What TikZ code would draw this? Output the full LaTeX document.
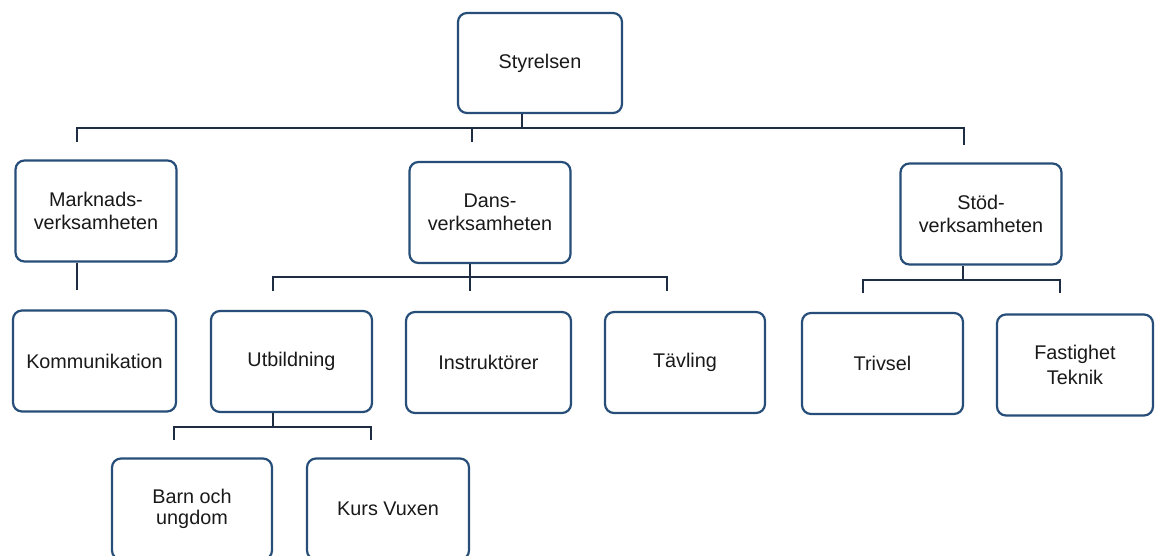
\documentclass[tikz,border=0pt]{standalone}
\usepackage{fontspec}
\setmainfont{Liberation Sans}
\definecolor{boxblue}{RGB}{38,78,120}
\definecolor{linenavy}{RGB}{30,45,65}
\begin{document}
\begin{tikzpicture}[x=1pt,y=-1pt,
  orgbox/.style={draw=boxblue, line width=2.2pt, rounded corners=9pt, fill=white,
    minimum width=161pt, minimum height=101pt, inner sep=0pt, align=center,
    font=\fontsize{19.8}{23}\selectfont, text=black!90},
  conn/.style={draw=linenavy, line width=2pt}]
\useasboundingbox (0,0) rectangle (1156,555);
% boxes
\node[orgbox, minimum width=164pt, minimum height=100pt] (sty) at (540,63) {Styrelsen};
\node[orgbox] (mark) at (96,211) {Marknads-\\verksamheten};
\node[orgbox] (dans) at (490,212.5) {Dans-\\verksamheten};
\node[orgbox] (stod) at (981,214) {Stöd-\\verksamheten};
\node[orgbox, minimum width=163pt] (komm) at (94.5,361) {Kommunikation};
\node[orgbox] (utb) at (291.5,361.5) {Utbildning};
\node[orgbox, minimum width=165pt] (instr) at (488.5,362.5) {Instruktörer};
\node[orgbox, minimum width=160pt] (tav) at (685,362.5) {Tävling};
\node[orgbox] (triv) at (882.5,363.5) {Trivsel};
\node[orgbox, minimum width=156pt, font=\fontsize{19.8}{25}\selectfont] (fast) at (1075,365) {Fastighet\\Teknik};
\node[orgbox, minimum width=160pt, font=\fontsize{19.8}{21}\selectfont] (barn) at (192,509) {Barn och\\ungdom};
\node[orgbox, minimum width=162pt] (kurs) at (388,509) {Kurs Vuxen};
% connector points
\coordinate (b1m) at (522,128);
\coordinate (b1l) at (77,128);
\coordinate (b1r) at (964,128);
\coordinate (t1l) at (77,142);
\coordinate (t1m) at (472,142);
\coordinate (b1d) at (472,128);
\coordinate (t1r) at (964,145);
\coordinate (b2m) at (470,277);
\coordinate (b2l) at (273,277);
\coordinate (b2r) at (667,277);
\coordinate (t2l) at (273,291);
\coordinate (t2m) at (470,291);
\coordinate (t2r) at (667,291);
\coordinate (mk) at (77,290);
\coordinate (b3m) at (963,280);
\coordinate (b3l) at (863,280);
\coordinate (b3r) at (1060,280);
\coordinate (t3l) at (863,293);
\coordinate (t3r) at (1060,293);
\coordinate (b4m) at (273,427);
\coordinate (b4l) at (174,427);
\coordinate (b4r) at (371,427);
\coordinate (t4l) at (174,440);
\coordinate (t4r) at (371,440);
% connectors
\draw[conn] (sty.south -| b1m) -- (b1m);
\draw[conn] (t1l) -- (b1l) -- (b1r) -- (t1r);
\draw[conn] (b1d) -- (t1m);
\draw[conn] (mark.south -| mk) -- (mk);
\draw[conn] (dans.south -| b2m) -- (t2m);
\draw[conn] (t2l) -- (b2l) -- (b2r) -- (t2r);
\draw[conn] (stod.south -| b3m) -- (b3m);
\draw[conn] (t3l) -- (b3l) -- (b3r) -- (t3r);
\draw[conn] (utb.south -| b4m) -- (b4m);
\draw[conn] (t4l) -- (b4l) -- (b4r) -- (t4r);
\end{tikzpicture}
\end{document}
